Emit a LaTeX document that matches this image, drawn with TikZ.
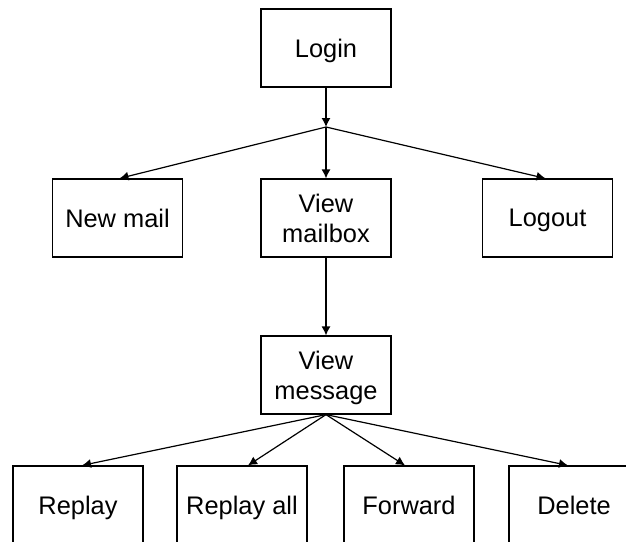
\documentclass[tikz,border=0pt]{standalone}
\usepackage{fontspec}
\setmainfont{Liberation Sans}
\usetikzlibrary{arrows.meta}
\begin{document}
\begin{tikzpicture}[x=0.5pt,y=-0.5pt,
  box/.style={draw,line width=0.6pt,minimum width=65pt,minimum height=39pt,inner sep=0pt,align=center,text depth=0pt,font=\fontsize{12.7}{15}\selectfont},
  arr/.style={line width=0.6pt,-{Latex[length=4.5pt,width=4.5pt]}}]
\clip (0,0) rectangle (626,541);
\node[box] (login) at (326,48) {Login};
\coordinate (fork) at (326,127);
\node[box] (newmail) at (117.5,218) {New mail};
\node[box] (mailbox) at (326,218) {View\\mailbox};
\node[box] (logout) at (547.5,218) {Logout};
\node[box] (message) at (326,375) {View\\message};
\node[box] (replay) at (78,505) {Replay};
\node[box] (replayall) at (242,505) {Replay all};
\node[box] (forward) at (409,505) {Forward};
\node[box] (delete) at (574,505) {Delete};
\draw[arr] (login) -- (fork);
\draw[arr] (fork) -- ([xshift=1pt]newmail.north);
\draw[arr] (fork) -- (mailbox);
\draw[arr] (fork) -- ([xshift=-1pt]logout.north);
\draw[arr] (mailbox) -- (message);
\draw[arr] (message.south) -- ([xshift=2pt]replay.north);
\draw[arr] (message.south) -- ([xshift=3pt]replayall.north);
\draw[arr] (message.south) -- ([xshift=-2pt]forward.north);
\draw[arr] (message.south) -- ([xshift=-3pt]delete.north);
\end{tikzpicture}
\end{document}
